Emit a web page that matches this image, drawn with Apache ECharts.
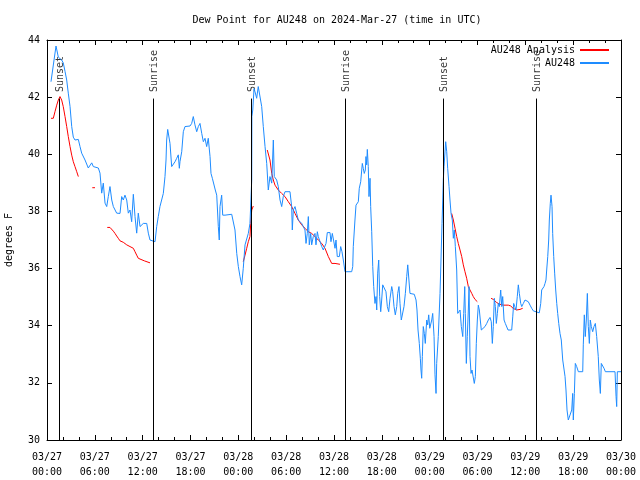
<!DOCTYPE html>
<html>
<head>
<meta charset="utf-8">
<script src="https://cdn.jsdelivr.net/npm/echarts@6/dist/echarts.min.js"></script>
<style>html,body{margin:0;padding:0;background:#fff}#c{width:640px;height:480px}</style>
</head>
<body>
<div id="c"></div>
<script>
// Hours since 2024-03-27 00:00 UTC
const xTickLabels = ['03/27\n00:00','03/27\n06:00','03/27\n12:00','03/27\n18:00','03/28\n00:00','03/28\n06:00','03/28\n12:00','03/28\n18:00','03/29\n00:00','03/29\n06:00','03/29\n12:00','03/29\n18:00','03/30\n00:00'];
const yTicks = [30,32,34,36,38,40,42,44];

const sunEvents = ['Sunset','Sunrise','Sunset','Sunrise','Sunset','Sunrise'];
const sunHours = [1.55, 13.33, 25.63, 37.42, 49.67, 61.38];

// AU248 observations [hour, degF]
const au248 = [
[0.50,42.54],[1.13,43.79],[1.34,43.79],[1.42,43.4],[1.63,43.47],[1.84,43.3],[2.04,43.2],[2.26,42.9],[2.47,42.6],[2.67,42.14],
[2.89,41.67],[3.10,40.97],[3.30,40.6],[3.51,40.5],[3.93,40.52],[4.14,40.27],[4.35,40.04],[4.77,39.8],[5.18,39.52],[5.61,39.7],
[5.81,39.57],[6.02,39.52],[6.44,39.52],[6.65,39.34],[6.86,38.64],[7.06,38.99],[7.28,38.29],[7.49,38.17],[7.69,38.52],[7.90,38.87],
[8.12,38.4],[8.32,38.17],[8.74,37.94],[9.16,37.93],[9.37,38.52],[9.57,38.4],[9.78,38.57],[10.00,38.4],[10.20,37.94],[10.41,38.05],
[10.62,37.64],[10.83,38.6],[11.04,37.82],[11.25,37.24],[11.45,37.94],[11.67,37.47],[12.08,37.58],[12.51,37.58],[12.71,37.24],[12.92,37.0],
[13.13,36.94],[13.55,36.94],[13.76,37.47],[13.96,37.82],[14.17,38.17],[14.39,38.17],[14.59,38.63],[14.80,39.22],[14.93,39.8],[15.01,40.5],
[15.14,40.87],[15.34,40.87],[15.43,40.38],[15.64,39.57],[15.84,39.57],[16.06,39.74],[16.27,39.86],[16.47,39.98],[16.60,39.51],[16.68,39.74],
[16.90,40.09],[17.10,40.79],[17.31,40.97],[17.94,40.99],[18.15,41.08],[18.35,41.32],[18.56,41.03],[18.78,40.79],[18.98,40.97],[19.19,41.08],
[19.41,40.73],[19.61,40.44],[19.82,40.56],[20.03,40.27],[20.23,40.56],[20.45,39.92],[20.57,39.33],[20.74,39.16],[20.95,39.16],[21.11,38.75],
[21.29,38.57],[21.49,37.47],[21.61,37.0],[21.70,38.17],[21.91,38.57],[22.04,37.87],[22.33,37.87],[23.17,37.9],[23.37,37.93],[23.58,37.35],
[23.80,36.53],[24.00,36.07],[24.21,35.72],[24.42,35.43],[24.62,36.01],[24.84,36.83],[25.05,36.77],[25.25,37.23],[25.46,37.58],[25.68,39.1],
[25.70,41.32],[25.81,41.55],[25.97,42.3],[26.09,42.19],[26.30,41.96],[26.50,42.37],[26.72,42.37],[26.93,41.67],[27.13,40.97],[27.35,40.27],
[27.56,39.68],[27.76,38.75],[27.97,39.22],[28.19,38.99],[28.39,40.5],[28.51,39.22],[28.81,39.1],[29.01,38.87],[29.23,38.4],[29.44,38.17],
[29.64,38.52],[29.85,38.69],[30.48,38.69],[30.69,38.17],[30.77,37.35],[30.90,38.05],[31.11,38.17],[31.32,37.93],[31.52,37.7],[31.74,37.76],
[31.95,37.58],[32.15,37.47],[32.36,37.35],[32.49,36.88],[32.65,37.23],[32.78,37.82],[32.90,36.83],[33.08,37.23],[33.20,36.83],[33.40,37.12],
[33.62,37.23],[33.74,36.83],[33.91,37.29],[34.03,37.12],[34.24,37.06],[34.46,36.77],[34.66,36.65],[34.87,36.59],[35.00,36.88],[35.16,37.26],
[35.50,37.26],[35.62,36.94],[35.79,37.23],[36.00,37.23],[36.13,36.71],[36.25,37.0],[36.41,36.42],[36.67,36.42],[36.84,36.77],[37.00,36.59],
[37.17,36.3],[37.38,35.89],[38.22,35.89],[38.35,36.07],[38.42,36.77],[38.63,37.7],[38.76,38.22],[38.97,38.17],[39.05,38.34],[39.17,38.81],
[39.35,39.04],[39.48,38.99],[39.55,39.68],[39.67,39.51],[39.80,39.33],[39.93,39.45],[40.01,39.92],[40.10,39.63],[40.18,40.17],[40.30,39.57],
[40.39,38.52],[40.52,39.16],[40.60,38.17],[40.73,37.29],[40.86,36.07],[40.98,35.37],[41.14,34.78],[41.27,35.02],[41.36,34.55],[41.48,35.84],
[41.61,36.3],[41.73,35.02],[41.86,34.49],[41.98,34.9],[42.11,35.43],[42.31,35.37],[42.52,35.19],[42.69,34.67],[42.86,34.49],[43.03,34.96],
[43.24,35.37],[43.36,35.19],[43.53,34.67],[43.69,34.38],[43.87,34.67],[43.99,35.13],[44.15,35.37],[44.28,34.78],[44.44,34.2],[44.62,34.14],
[44.78,34.67],[44.95,35.13],[45.12,35.72],[45.25,36.13],[45.41,36.18],[45.53,35.13],[46.07,35.1],[46.29,34.9],[46.41,34.55],[46.54,33.85],
[46.70,33.38],[46.83,32.86],[46.91,32.45],[47.00,32.16],[47.08,32.92],[47.20,33.97],[47.33,33.73],[47.45,33.38],[47.63,34.2],[47.75,34.03],
[47.88,34.38],[48.01,33.91],[48.26,34.2],[48.38,34.43],[48.55,33.62],[48.67,32.28],[48.80,31.63],[48.88,32.68],[49.08,33.62],[49.30,35.13],
[49.42,36.3],[49.55,37.58],[49.64,38.4],[49.71,39.1],[49.80,39.57],[50.01,40.44],[50.14,40.09],[50.26,39.51],[50.43,38.87],[50.55,38.4],
[50.68,37.93],[50.84,37.7],[50.97,37.06],[51.09,37.35],[51.22,36.77],[51.39,35.95],[51.52,34.43],[51.68,34.49],[51.81,34.55],[51.97,33.97],
[52.15,33.62],[52.27,34.43],[52.40,35.37],[52.47,34.43],[52.60,32.68],[52.72,33.62],[52.85,34.55],[52.94,35.37],[53.06,32.92],[53.19,32.33],
[53.31,32.45],[53.47,32.51],[53.60,31.98],[53.73,32.22],[53.85,33.38],[53.98,34.2],[54.10,34.72],[54.23,34.55],[54.35,34.2],[54.48,33.85],
[54.65,33.79],[54.94,33.97],[55.16,34.08],[55.36,34.2],[55.57,34.29],[55.73,34.14],[55.86,33.38],[55.98,33.97],[56.11,34.96],[56.24,34.67],
[56.36,34.08],[56.49,34.43],[56.61,34.78],[56.74,34.67],[56.91,35.25],[57.04,34.67],[57.16,35.02],[57.33,34.2],[57.49,34.08],[57.66,34.14],
[57.83,33.85],[58.29,33.85],[58.42,34.31],[58.54,34.78],[58.67,34.67],[58.83,34.55],[58.99,35.02],[59.12,35.43],[59.25,35.13],[59.42,34.78],
[59.55,34.67],[59.75,34.78],[59.96,34.9],[60.17,34.96],[60.37,34.84],[60.59,34.72],[60.80,34.61],[61.00,34.52],[61.21,34.45],[61.75,34.45],
[61.93,34.78],[62.05,35.25],[62.18,35.19],[62.34,35.37],[62.47,35.48],[62.59,35.6],[62.68,35.95],[62.81,36.42],[62.93,37.0],[63.01,37.7],
[63.13,38.28],[63.22,38.57],[63.35,38.17],[63.43,37.23],[63.56,36.42],[63.68,35.84],[63.81,35.25],[63.94,34.78],[64.06,34.43],[64.19,34.08],
[64.35,33.73],[64.51,33.5],[64.69,32.8],[64.85,32.74],[64.98,32.22],[65.10,31.75],[65.23,31.05],[65.39,30.7],[65.82,31.05],[65.94,31.63],
[66.02,30.7],[66.15,31.63],[66.27,32.68],[66.44,32.57],[66.65,32.39],[67.20,32.39],[67.27,33.33],[67.40,34.38],[67.52,33.62],[67.65,34.2],
[67.78,35.13],[67.90,33.97],[68.03,33.38],[68.15,34.2],[68.28,33.97],[68.45,33.79],[68.61,33.97],[68.78,34.08],[68.95,33.62],[69.15,32.92],
[69.28,32.1],[69.41,31.63],[69.53,32.68],[69.71,32.74],[69.87,32.51],[70.04,32.39],[71.25,32.39],[71.38,31.52],[71.46,31.17],[71.54,32.39],
[72.00,32.39]
];

// AU248 Analysis, drawn as separate pieces [hour, degF]
const analysis1 = [[0.50,41.26],[0.79,41.26],[1.00,41.49],[1.22,41.72],[1.42,41.9],[1.63,42.02],[1.84,41.9],[2.04,41.67],[2.26,41.32],[2.47,40.97],[2.67,40.62],[2.89,40.27],[3.10,39.97],[3.30,39.74],[3.51,39.57],[3.73,39.39],[3.93,39.22]];
const analysis2 = [[5.68,38.83],[6.02,38.83]];
const analysis3 = [[7.56,37.44],[7.90,37.44],[8.12,37.37],[8.32,37.31],[8.53,37.23],[8.74,37.14],[8.94,37.06],[9.16,36.97],[9.37,36.94],[9.57,36.92],[9.78,36.88],[10.00,36.83],[10.41,36.77],[10.83,36.71],[11.04,36.59],[11.25,36.47],[11.45,36.36],[11.67,36.3],[12.21,36.27],[12.92,36.2]];
const analysis4 = [[24.62,36.24],[24.84,36.47],[25.05,36.71],[25.25,36.94],[25.46,37.12],[25.55,37.58],[25.68,38.05],[25.88,38.19]];
const analysis5 = [[27.63,40.15],[27.76,40.09],[27.97,39.8],[28.19,39.33],[28.39,39.1],[28.60,38.92],[29.01,38.75],[29.44,38.63],[29.85,38.52],[30.27,38.34],[30.69,38.17],[31.11,37.93],[31.52,37.7],[31.95,37.53],[32.36,37.41],[32.78,37.29],[33.20,37.23],[33.62,37.12],[34.03,37.0],[34.46,36.88],[34.87,36.71],[35.29,36.42],[35.71,36.18],[36.13,36.18],[36.75,36.15]];
const analysis6 = [[50.76,37.93],[50.97,37.7],[51.18,37.41],[51.39,37.12],[51.59,36.88],[51.81,36.65],[52.02,36.42],[52.22,36.13],[52.43,35.89],[52.64,35.66],[52.85,35.37],[53.06,35.25],[53.28,35.13],[53.47,35.02],[53.69,34.92],[53.98,34.84]];
const analysis7 = [[55.70,34.96],[55.98,34.92],[56.41,34.81],[56.82,34.75],[57.24,34.72],[57.87,34.72],[58.17,34.69],[58.46,34.61],[58.89,34.55],[59.33,34.57],[59.67,34.61]];
const analysisPieces = [analysis1, analysis2, analysis3, analysis4, analysis5, analysis6, analysis7];

const FONT = 'DejaVu Sans Mono';
const sunLabelVal = 42.18;
const sunLineTop = 41.95;

const chart = echarts.init(document.getElementById('c'), null, {renderer: 'canvas'});

const analysisSeries = analysisPieces.map(p => ({
  name: 'AU248 Analysis', type: 'line', data: p, symbol: 'none', z: 3,
  lineStyle: {color: '#ff0000', width: 1}, itemStyle: {color: '#ff0000'}, silent: true
}));

const option = {
  animation: false,
  backgroundColor: '#ffffff',
  title: {
    text: 'Dew Point for AU248 on 2024-Mar-27 (time in UTC)',
    left: 332, top: 10, textAlign: 'center',
    textStyle: {fontFamily: FONT, fontSize: 10, fontWeight: 'normal', color: '#000'}
  },
  legend: {
    data: ['AU248 Analysis', 'AU248'],
    orient: 'vertical', right: 25, top: 40, align: 'right',
    itemWidth: 29, itemHeight: 10, itemGap: 3,
    itemStyle: {opacity: 0},
    textStyle: {fontFamily: FONT, fontSize: 10, color: '#000'}
  },
  grid: {left: 47, right: 19, top: 40, bottom: 40, containLabel: false, outerBoundsMode: 'none'},
  xAxis: [{
    type: 'value', min: 0, max: 72, interval: 6,
    axisLine: {show: true, onZero: false, lineStyle: {color: '#000', width: 1}},
    axisTick: {show: true, inside: true, length: 5, lineStyle: {color: '#000'}},
    minorTick: {show: true, splitNumber: 3, length: 3, lineStyle: {color: '#000'}},
    splitLine: {show: false},
    axisLabel: {fontFamily: FONT, fontSize: 10, color: '#000', margin: 10, lineHeight: 15,
      formatter: v => xTickLabels[Math.round(v / 6)] || ''}
  }, {
    type: 'value', min: 0, max: 72, interval: 6, position: 'top',
    axisLine: {show: true, onZero: false, lineStyle: {color: '#000', width: 1}},
    axisTick: {show: true, inside: true, length: 5, lineStyle: {color: '#000'}},
    minorTick: {show: true, splitNumber: 3, length: 3, lineStyle: {color: '#000'}},
    splitLine: {show: false}, axisLabel: {show: false}
  }],
  yAxis: [{
    type: 'value', min: yTicks[0], max: yTicks[yTicks.length - 1], interval: 2,
    name: 'degrees F', nameLocation: 'middle', nameGap: 33, nameRotate: 90,
    nameTextStyle: {fontFamily: FONT, fontSize: 10, color: '#000'},
    axisLine: {show: true, onZero: false, lineStyle: {color: '#000', width: 1}},
    axisTick: {show: true, inside: true, length: 5, lineStyle: {color: '#000'}},
    splitLine: {show: false},
    axisLabel: {fontFamily: FONT, fontSize: 10, color: '#000', margin: 7}
  }, {
    type: 'value', min: yTicks[0], max: yTicks[yTicks.length - 1], interval: 2, position: 'right',
    axisLine: {show: true, onZero: false, lineStyle: {color: '#000', width: 1}},
    axisTick: {show: true, inside: true, length: 5, lineStyle: {color: '#000'}},
    splitLine: {show: false}, axisLabel: {show: false}
  }],
  series: [
    {
      name: 'sun', type: 'scatter', symbolSize: 0, z: 2, silent: true,
      data: sunHours.map((h, i) => ({value: [h, sunLabelVal], name: sunEvents[i]})),
      label: {show: true, position: [1, 0], rotate: 90, align: 'left', verticalAlign: 'middle',
        formatter: p => p.name, fontFamily: FONT, fontSize: 10, color: '#000'},
      markLine: {
        silent: true, symbol: ['none', 'none'], label: {show: false},
        lineStyle: {color: '#000', width: 1, type: 'solid'},
        data: sunHours.map(h => [{coord: [h, sunLineTop]}, {coord: [h, 30]}])
      }
    },
    ...analysisSeries,
    {
      name: 'AU248', type: 'line', data: au248, symbol: 'none', z: 4, silent: true,
      lineStyle: {color: '#1e8cff', width: 1}, itemStyle: {color: '#1e8cff'}
    }
  ]
};
chart.setOption(option);
</script>
</body>
</html>
